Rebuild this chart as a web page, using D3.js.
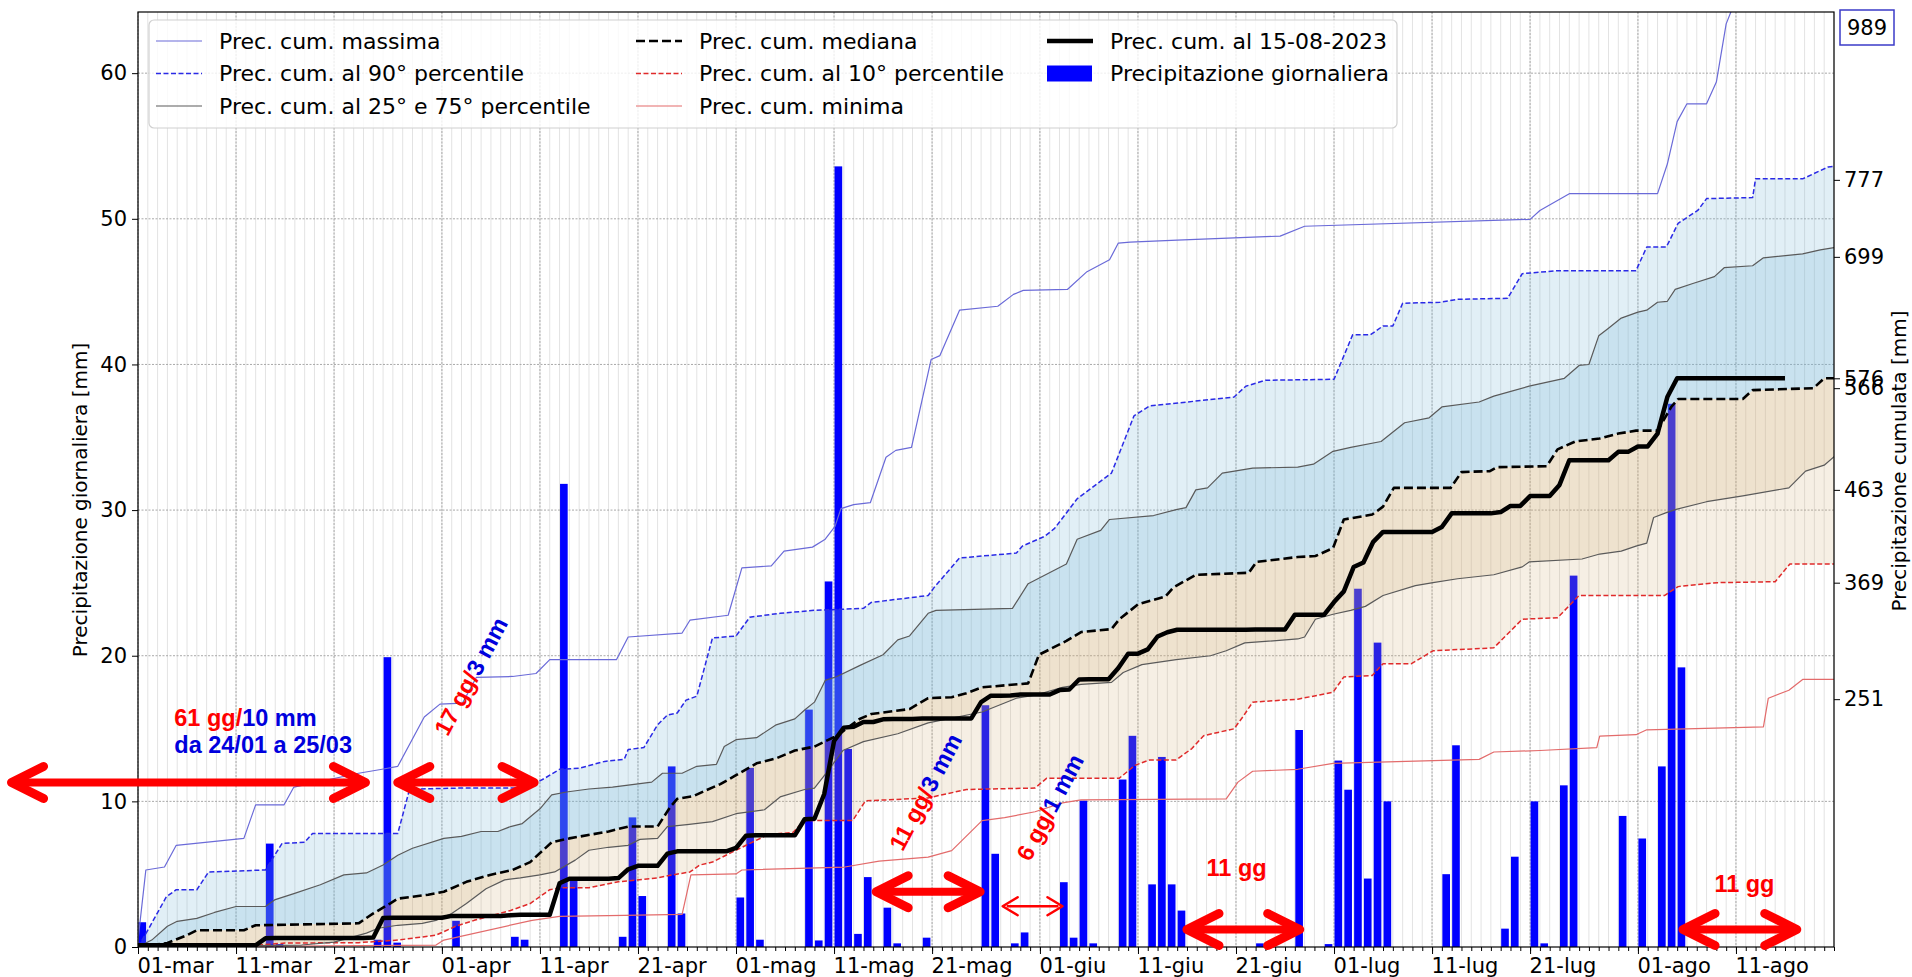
<!DOCTYPE html>
<html>
<head>
<meta charset="utf-8">
<script src="https://cdn.jsdelivr.net/npm/d3@7"></script>
<style>
  body { margin: 0; background: #fff; }
  text { font-family: "DejaVu Sans", sans-serif; }
  .note { font-family: "Liberation Sans", Arial, sans-serif; font-weight: bold; }
</style>
</head>
<body>
<div id="chart"></div>
<script>
// series start on 1 March 2023, x values are days from that date
const START = Date.UTC(2023, 2, 1);
const LAST_DAY = 173;   // 21 Aug

const monthNames = ["gen", "feb", "mar", "apr", "mag", "giu", "lug", "ago", "set", "ott", "nov", "dic"];
const labelDays = [1, 11, 21];
const leftTicks = [0, 10, 20, 30, 40, 50, 60];
const rightTicks = [251, 369, 463, 566, 576, 699, 777];
const maxValueLabel = "989";

// daily precipitation 2023 [day, mm]
const dailyRain = [
  [0, 1.7], [13, 7.1], [14, 0.2], [24, 0.5], [25, 19.9], [26, 0.3], [32, 1.8], [38, 0.7], [39, 0.5],
  [43, 31.8], [44, 4.6], [49, 0.7], [50, 8.9], [51, 3.5], [54, 12.4], [55, 2.3], [61, 3.4], [62, 12.3],
  [63, 0.5], [68, 16.3], [69, 0.45], [70, 25.1], [71, 53.6], [72, 13.6], [73, 0.9], [74, 4.8], [76, 2.7],
  [77, 0.25], [80, 0.64], [86, 16.6], [87, 6.4], [89, 0.25], [90, 1.0], [94, 4.45], [95, 0.64], [96, 10.05],
  [97, 0.25], [100, 11.5], [101, 14.5], [103, 4.3], [104, 13.05], [105, 4.3], [106, 2.5], [114, 0.25],
  [118, 14.9], [121, 0.2], [122, 12.8], [123, 10.8], [124, 24.6], [125, 4.7], [126, 20.9], [127, 10.0],
  [133, 5.0], [134, 13.85], [139, 1.26], [140, 6.2], [142, 10.0], [143, 0.25], [145, 11.1], [146, 25.5],
  [151, 9.0], [153, 7.45], [155, 12.4], [156, 37.3], [157, 19.2]
];

// cumulative curves [day, mm]
const cumMax = [
  [0, 7], [0.8, 78], [2.7, 81], [3.9, 103], [10.8, 110], [12, 144], [14.9, 144], [15.9, 162], [22.5, 176],
  [24.9, 180], [26.5, 183], [29.2, 233], [30.8, 246], [33.1, 247], [34.5, 273], [38.2, 274], [40.6, 277],
  [42, 291], [48.8, 291], [50, 314], [55.5, 318], [56.3, 331], [60.2, 336], [61.6, 384], [64.6, 386],
  [65.9, 401], [68.8, 405], [70.1, 413], [71.1, 426], [71.7, 444], [73, 448], [74.7, 450], [76.3, 496],
  [77.3, 503], [78.9, 506], [80.9, 595], [81.8, 599], [83.8, 645], [87.7, 649], [89.3, 661], [90.3, 665],
  [94.8, 666], [96.8, 684], [99.1, 696], [100, 713], [101.2, 714], [106, 716], [116.5, 720], [119, 730],
  [142, 737], [143, 746], [146, 763], [155, 763], [156, 793], [157, 836], [158, 854], [160, 854],
  [161, 876], [162, 935], [163, 960], [167, 989], [173, 995]
];
const cumP90 = [
  [0, 0], [1, 17], [2.9, 51], [3.9, 58], [6, 58], [7.2, 76], [13, 78], [14.7, 105], [17, 106], [17.8, 115],
  [26.5, 115], [27.6, 156], [28.2, 160], [33, 161], [39, 161], [40.6, 166], [41.5, 171], [43, 180], [45, 181],
  [47.6, 188], [49.6, 190], [50, 200], [51.6, 202], [53, 225], [54, 235], [55, 237], [55.9, 250], [57, 254],
  [58, 291], [58.6, 313], [61, 315], [62.4, 334], [65.5, 338], [69, 341], [74, 343], [74.8, 349], [80.6, 356],
  [81.2, 364], [83.8, 394], [89.6, 399], [90.2, 406], [92.5, 416], [93.5, 424], [95.8, 454], [99.3, 480],
  [101.6, 538], [103.2, 548], [111.8, 557], [113, 568], [115, 574], [122, 575], [123.9, 620], [125.7, 620],
  [127, 629], [128, 629], [129, 652], [132.8, 653], [134.6, 656], [139.7, 657], [141.2, 682], [144.8, 685],
  [152.8, 685], [153.9, 709], [155.9, 709], [157.1, 733], [159.1, 746], [160, 758], [164.7, 759], [165, 778],
  [169.8, 778], [172.4, 790], [173.4, 791]
];
const cumP75 = [
  [0, 0], [1.4, 7], [3, 21], [4, 26], [6, 29], [7.8, 35], [10, 41], [13, 41], [14, 48], [15.9, 54], [18.6, 63],
  [21, 73], [23.3, 75], [25, 83], [26.5, 93], [28, 100], [31.2, 110], [33, 112], [35, 117], [36.7, 117],
  [38, 122], [39.2, 125], [41, 140], [42.2, 154], [43.7, 157], [46, 160], [48.4, 162], [50, 164], [52.4, 167],
  [53.5, 176], [55.5, 176], [57, 183], [59, 185], [59.8, 203], [61, 210], [63.1, 212], [65.1, 225], [67, 231],
  [68, 240], [69, 248], [70.1, 270], [71.3, 274], [73.6, 285], [76, 296], [77.5, 311], [78.7, 315],
  [80.6, 338], [81.4, 341], [89.2, 343], [90.8, 368], [94.7, 388], [95.8, 413], [98.2, 422], [99.1, 433],
  [103.6, 437], [105.9, 443], [106.9, 445], [107.9, 463], [109.1, 465], [110.6, 480], [113.7, 485],
  [118.3, 486], [119.9, 489], [121.9, 502], [123.7, 506], [126.8, 512], [129.2, 531], [131.7, 536], [133, 547],
  [136.8, 552], [138.3, 558], [141.9, 568], [145.5, 576], [147, 589], [148, 590], [149, 619], [149.9, 626],
  [151.3, 637], [153, 643], [153.9, 645], [155, 653], [156, 654], [156.8, 666], [158.6, 672], [160.8, 679],
  [161.8, 688], [164.7, 690], [165.8, 698], [169.8, 702], [171.6, 706], [173.4, 709]
];
const cumMedian = [
  [0, 0], [3, 4], [5, 12], [6, 17], [10.8, 17], [12, 22], [22.5, 24], [24, 34], [25.7, 44], [26.5, 49],
  [29.6, 53], [31.2, 56], [33.5, 66], [35.9, 73], [38.2, 78], [40, 86], [42.2, 106], [44, 110], [48, 117],
  [50, 122], [53, 122], [54.3, 142], [55, 150], [56.7, 153], [58, 159], [59.4, 165], [61, 174], [63.1, 186],
  [65.1, 191], [67, 199], [69, 203], [71.3, 214], [73.6, 231], [74.8, 236], [78.7, 241], [80.6, 252], [83, 253],
  [84.5, 257], [86.1, 263], [90.8, 267], [91.9, 296], [94.7, 310], [96.2, 319], [99.3, 322], [100.1, 332],
  [102, 347], [104.8, 355], [105.6, 364], [107.9, 377], [113.3, 379], [114.1, 390], [118.3, 395], [120.1, 396],
  [121.9, 404], [123, 433], [125.9, 438], [127, 446], [128.1, 465], [133.9, 465], [135, 481], [137.9, 482],
  [138.6, 486], [143.7, 487], [144.8, 504], [146.6, 512], [149.1, 515], [151, 520], [152.8, 523], [155, 523],
  [156.4, 547], [157.1, 555], [163.7, 555], [164.7, 564], [170.9, 566], [172, 576], [173.4, 576]
];
const cumP25 = [
  [0, 0], [16.7, 2], [20, 5], [23.3, 14], [24.5, 19], [26.5, 22], [29, 24], [30.4, 27], [32, 34], [33.5, 44],
  [35.5, 59], [37.4, 68], [39, 70], [41, 73], [42.5, 76], [44.6, 88], [46, 98], [48, 101], [50, 103], [51.2, 109],
  [53, 110], [54, 122], [56, 124], [58.6, 127], [61, 135], [63.9, 139], [65.5, 152], [68, 159.5], [69, 161],
  [70.5, 180], [71.9, 199], [74, 208], [77.5, 216], [80.6, 227], [86.1, 238], [89.6, 252], [91.5, 255],
  [94.3, 263], [96.2, 266], [99.3, 268], [100.5, 278], [102.4, 286], [105.9, 291], [109.4, 295], [111, 300],
  [112.9, 308], [118.3, 312], [119, 314], [120.1, 332], [121.9, 337], [123.7, 341], [125.2, 345], [127, 356],
  [130.3, 366], [132.1, 369], [134.6, 373], [138.3, 377], [141.2, 385], [141.9, 390], [147.3, 393],
  [149.1, 398], [151.3, 401], [152.8, 406], [153.9, 409], [154.6, 435], [155.9, 440], [156.8, 443], [160, 451],
  [163.7, 457], [168.4, 465], [170.1, 482], [172, 488], [173.4, 500]
];
const cumP10 = [
  [0, 0], [12.4, 2], [15, 4], [22.5, 4.4], [26.5, 7], [30.4, 12], [32.4, 21], [34.3, 27], [38, 37], [40, 44],
  [42, 58], [43, 60], [46, 60], [49, 66], [50, 67], [53, 70], [54.5, 73], [56.3, 76], [57.3, 83], [58.6, 86],
  [61.2, 99], [64.3, 114], [66.8, 116], [68, 128], [72.9, 128], [74.2, 148], [80.6, 151], [84.5, 159.5],
  [91.5, 161], [92.7, 171], [100.1, 171], [101.7, 184], [103.2, 189.5], [105.9, 189.5], [107.5, 201],
  [108.7, 214], [111.8, 221], [112.8, 234.5], [113.7, 248], [118.3, 251], [121.9, 258], [123, 273.5],
  [125.9, 275], [127, 287], [129.9, 287], [132.1, 300], [138.3, 303], [141.2, 332], [144.8, 333.5], [147, 356],
  [155.7, 356], [157.1, 365], [161.1, 369], [167, 370], [168.5, 388], [173.4, 388]
];
const cumMin = [
  [0, 0], [30.4, 2], [31.2, 7], [40.2, 27], [43, 31], [49.6, 32], [55.5, 33], [56.4, 73], [61, 74], [61.6, 78],
  [72.1, 81], [75.6, 87], [80.6, 91], [83, 97.6], [86.1, 128], [88.4, 131], [91.5, 137], [94.3, 146], [96.2, 149],
  [111, 150], [112.2, 167], [113.7, 178], [118.3, 180], [121.9, 186], [136.8, 190], [138.3, 197.5], [143, 199],
  [148.8, 202], [149.1, 213.5], [152.8, 215], [153.9, 220], [165.8, 223], [166.3, 252], [168.4, 260],
  [169.8, 271], [173.4, 271]
];
const cum2023 = [
  [0, 1.7], [12, 1.7], [13, 8.8], [14, 9], [23, 9], [24, 9.5], [25, 29.4], [26, 29.7], [31, 29.7], [32, 31.5],
  [37, 31.5], [38, 32.2], [39, 32.7], [42, 32.7], [43, 64.5], [44, 69.1], [48, 69.1], [49, 69.8], [50, 78.7],
  [51, 82.2], [53, 82.2], [54, 94.6], [55, 96.9], [60, 96.9], [61, 100.3], [62, 112.6], [63, 113.1], [67, 113.1],
  [68, 129.4], [69, 129.9], [70, 155], [71, 208.6], [72, 222.2], [73, 223.1], [74, 227.9], [75, 227.9],
  [76, 230.6], [77, 230.9], [79, 230.9], [80, 231.5], [85, 231.5], [86, 248.1], [87, 254.5], [88, 254.5],
  [89, 254.7], [90, 255.7], [93, 255.7], [94, 260.2], [95, 260.8], [96, 270.9], [97, 271.1], [99, 271.1],
  [100, 282.6], [101, 297.1], [102, 297.1], [103, 301.4], [104, 314.5], [105, 318.8], [106, 321.3],
  [113, 321.3], [114, 321.5], [117, 321.5], [118, 336.4], [120, 336.4], [121, 336.6], [122, 349.4],
  [123, 360.2], [124, 384.8], [125, 389.5], [126, 410.4], [127, 420.4], [132, 420.4], [133, 425.4],
  [134, 439.2], [138, 439.2], [139, 440.5], [140, 446.7], [141, 446.7], [142, 456.7], [143, 456.9],
  [144, 456.9], [145, 468], [146, 493], [150, 493], [151, 501.5], [152, 501.5], [153, 507], [154, 507],
  [155, 520], [156, 557], [157, 576], [168, 576]
];

// annotations (days / daily-mm level)
const dryArrows = [
  { from: -12.9, to: 23.2, level: 11.3, heavy: true },
  { from: 26.5, to: 40.4, level: 11.3, heavy: true },
  { from: 75.3, to: 85.9, level: 3.8, heavy: true },
  { from: 88.2, to: 94.3, level: 2.8, heavy: false },
  { from: 107, to: 118.5, level: 1.2, heavy: true },
  { from: 157.6, to: 169.2, level: 1.2, heavy: true }
];
const dryNotes = [
  { day: 3.7, level: 15.2, rot: 0, parts: [["61 gg/", "red"], ["10 mm", "blue"]] },
  { day: 3.7, level: 13.3, rot: 0, parts: [["da 24/01 a 25/03", "blue"]] },
  { day: 31.6, level: 14.4, rot: -62, parts: [["17 gg/", "red"], ["3 mm", "blue"]] },
  { day: 78, level: 6.5, rot: -62, parts: [["11 gg/", "red"], ["3 mm", "blue"]] },
  { day: 91, level: 5.8, rot: -62, parts: [["6 gg/", "red"], ["1 mm", "blue"]] },
  { day: 109, level: 4.9, rot: 0, parts: [["11 gg", "red"]] },
  { day: 160.8, level: 3.8, rot: 0, parts: [["11 gg", "red"]] }
];

const plot = { left: 138, right: 1834, top: 12, bottom: 947 };
const W = 1912, H = 977;

const svg = d3.select("#chart").append("svg")
  .attr("width", W).attr("height", H);

const dayDate = d => new Date(START + d * 864e5);
const x = d3.scaleUtc().domain([dayDate(0), dayDate(LAST_DAY)]).range([plot.left, plot.right]);
const xd = d => x(dayDate(d));
const yLeft = d3.scaleLinear().domain([0, 64.2]).range([plot.bottom, plot.top]);
const yRight = d3.scaleLinear().domain([0, 947]).range([plot.bottom, plot.top]);

svg.append("clipPath").attr("id", "clip")
  .append("rect")
  .attr("x", plot.left).attr("y", plot.top)
  .attr("width", plot.right - plot.left).attr("height", plot.bottom - plot.top);

// grid
const allDays = d3.utcDay.range(dayDate(0), dayDate(LAST_DAY + 0.5));
const majorDays = allDays.filter(d => labelDays.includes(d.getUTCDate()) && d < dayDate(LAST_DAY));

const grid = svg.append("g");
grid.selectAll(".minor").data(allDays).enter().append("line")
  .attr("x1", d => x(d)).attr("x2", d => x(d))
  .attr("y1", plot.top).attr("y2", plot.bottom)
  .attr("stroke", "#e3e3e3").attr("stroke-width", 1);
grid.selectAll(".major").data(majorDays).enter().append("line")
  .attr("x1", d => x(d)).attr("x2", d => x(d))
  .attr("y1", plot.top).attr("y2", plot.bottom)
  .attr("stroke", "#a8a8a8").attr("stroke-width", 1).attr("stroke-dasharray", "2,1.5");
grid.selectAll(".hgrid").data(leftTicks.slice(1)).enter().append("line")
  .attr("x1", plot.left).attr("x2", plot.right)
  .attr("y1", d => yLeft(d)).attr("y2", d => yLeft(d))
  .attr("stroke", "#a8a8a8").attr("stroke-width", 1).attr("stroke-dasharray", "2,1.5");

const inner = svg.append("g").attr("clip-path", "url(#clip)");

// bars (left axis)
inner.selectAll(".bar").data(dailyRain).enter().append("rect")
  .attr("x", d => xd(d[0] + 0.05))
  .attr("width", xd(0.78) - xd(0))
  .attr("y", d => yLeft(d[1]))
  .attr("height", d => yLeft(0) - yLeft(d[1]))
  .attr("fill", "#0000ff");

// bands (right axis)
const line = d3.line().x(d => xd(d[0])).y(d => yRight(d[1]));
function band(upper, lower) {
  return line(upper) + "L" + line(lower.slice().reverse()).slice(1) + "Z";
}
const bands = [
  [cumP90, cumMedian, "#77b7d4", 0.22],
  [cumP75, cumMedian, "#77b7d4", 0.22],
  [cumMedian, cumP10, "#d2af78", 0.2],
  [cumMedian, cumP25, "#d2af78", 0.2]
];
bands.forEach(b => {
  inner.append("path").attr("d", band(b[0], b[1]))
    .attr("fill", b[2]).attr("fill-opacity", b[3]).attr("stroke", "none");
});

const styles = [
  { data: cumMin, color: "#e36b6b", width: 1.2, dash: null },
  { data: cumP10, color: "#e02a2a", width: 1.5, dash: "5,2.5" },
  { data: cumP25, color: "#5a5a5a", width: 1.2, dash: null },
  { data: cumP75, color: "#5a5a5a", width: 1.2, dash: null },
  { data: cumMedian, color: "#000", width: 2.6, dash: "9,4" },
  { data: cumP90, color: "#2a2ae6", width: 1.5, dash: "5,2.5" },
  { data: cumMax, color: "#6a6ad8", width: 1.2, dash: null },
  { data: cum2023, color: "#000", width: 4.5, dash: null }
];
styles.forEach(s => {
  inner.append("path").datum(s.data)
    .attr("d", line)
    .attr("fill", "none")
    .attr("stroke", s.color)
    .attr("stroke-width", s.width)
    .attr("stroke-linejoin", "round")
    .attr("stroke-dasharray", s.dash);
});

// axes
const fmt = d => d3.utcFormat("%d")(d) + "-" + monthNames[d.getUTCMonth()];

svg.append("g")
  .attr("transform", `translate(0,${plot.bottom})`)
  .call(d3.axisBottom(x).tickValues(allDays).tickSize(4).tickFormat(""))
  .call(g => g.select(".domain").remove());

const xAxis = svg.append("g")
  .attr("transform", `translate(0,${plot.bottom})`)
  .call(d3.axisBottom(x).tickValues(majorDays).tickSize(7).tickPadding(4).tickFormat(fmt));
xAxis.select(".domain").remove();
xAxis.selectAll("text").attr("text-anchor", "start").attr("x", -1)
  .style("font-size", "21px").attr("fill", "#000");

const yAxisL = svg.append("g")
  .attr("transform", `translate(${plot.left},0)`)
  .call(d3.axisLeft(yLeft).tickValues(leftTicks).tickSize(6).tickPadding(5));
yAxisL.select(".domain").remove();
yAxisL.selectAll("text").style("font-size", "21px").attr("fill", "#000");

const yAxisR = svg.append("g")
  .attr("transform", `translate(${plot.right},0)`)
  .call(d3.axisRight(yRight).tickValues(rightTicks).tickSize(6).tickPadding(4));
yAxisR.select(".domain").remove();
yAxisR.selectAll("text").style("font-size", "21px").attr("fill", "#000");

svg.append("rect")
  .attr("x", plot.left).attr("y", plot.top)
  .attr("width", plot.right - plot.left).attr("height", plot.bottom - plot.top)
  .attr("fill", "none").attr("stroke", "#000").attr("stroke-width", 1.2);

// axis labels
svg.append("text")
  .attr("transform", "translate(80,500) rotate(-90)")
  .attr("text-anchor", "middle").attr("dominant-baseline", "central")
  .style("font-size", "20px")
  .text("Precipitazione giornaliera [mm]");
svg.append("text")
  .attr("transform", "translate(1899,461) rotate(-90)")
  .attr("text-anchor", "middle").attr("dominant-baseline", "central")
  .style("font-size", "20px")
  .text("Precipitazione cumulata [mm]");

// value of the maximum curve, out of scale
svg.append("rect")
  .attr("x", 1840).attr("y", 10).attr("width", 54).attr("height", 35)
  .attr("fill", "#fff").attr("stroke", "#3b3bc8").attr("stroke-width", 1.5);
svg.append("text")
  .attr("x", 1867).attr("y", 28)
  .attr("text-anchor", "middle").attr("dominant-baseline", "central")
  .style("font-size", "21px")
  .text(maxValueLabel);

// dry period arrows
const notesG = svg.append("g");
dryArrows.forEach(a => {
  const x1 = xd(a.from), x2 = xd(a.to), y = yLeft(a.level);
  const hx = a.heavy ? 32 : 15, hy = a.heavy ? 16 : 9;
  notesG.append("line")
    .attr("x1", x1 + 4).attr("x2", x2 - 4).attr("y1", y).attr("y2", y)
    .attr("stroke", "#ff0000").attr("stroke-width", a.heavy ? 8 : 2.5);
  notesG.append("path")
    .attr("d", `M${x1 + hx},${y - hy}L${x1},${y}L${x1 + hx},${y + hy}M${x2 - hx},${y - hy}L${x2},${y}L${x2 - hx},${y + hy}`)
    .attr("fill", "none").attr("stroke", "#ff0000")
    .attr("stroke-width", a.heavy ? 9 : 2.5)
    .attr("stroke-linecap", "round").attr("stroke-linejoin", "round");
});

dryNotes.forEach(n => {
  const t = notesG.append("text")
    .attr("class", "note")
    .attr("transform", `translate(${xd(n.day)},${yLeft(n.level)}) rotate(${n.rot})`)
    .style("font-size", "23.5px");
  n.parts.forEach(p => {
    t.append("tspan").attr("fill", p[1] === "red" ? "#ff0000" : "#0000dd").text(p[0]);
  });
});

// legend
const legendItems = [
  { label: "Prec. cum. massima", col: 0, row: 0, color: "#6a6ad8", width: 1.2, dash: null },
  { label: "Prec. cum. al 90° percentile", col: 0, row: 1, color: "#2a2ae6", width: 1.5, dash: "5,2.5" },
  { label: "Prec. cum. al 25° e 75° percentile", col: 0, row: 2, color: "#5a5a5a", width: 1.2, dash: null },
  { label: "Prec. cum. mediana", col: 1, row: 0, color: "#000", width: 2.6, dash: "9,4" },
  { label: "Prec. cum. al 10° percentile", col: 1, row: 1, color: "#e02a2a", width: 1.5, dash: "5,2.5" },
  { label: "Prec. cum. minima", col: 1, row: 2, color: "#e36b6b", width: 1.2, dash: null },
  { label: "Prec. cum. al 15-08-2023", col: 2, row: 0, color: "#000", width: 4.5, dash: null },
  { label: "Precipitazione giornaliera", col: 2, row: 1, color: "#0000ff", bar: true }
];
const colX = [156, 636, 1047];
const rowY = [41, 73.5, 106];

const legend = svg.append("g");
legend.append("rect")
  .attr("x", 149).attr("y", 20).attr("width", 1248).attr("height", 108)
  .attr("rx", 5)
  .attr("fill", "#fff").attr("fill-opacity", 0.8)
  .attr("stroke", "#d0d0d0").attr("stroke-width", 1.2);
legendItems.forEach(it => {
  const lx = colX[it.col], ly = rowY[it.row];
  if (it.bar) {
    legend.append("rect").attr("x", lx).attr("y", ly - 8).attr("width", 45).attr("height", 16)
      .attr("fill", it.color);
  } else {
    legend.append("line")
      .attr("x1", lx).attr("x2", lx + 46).attr("y1", ly).attr("y2", ly)
      .attr("stroke", it.color).attr("stroke-width", it.width)
      .attr("stroke-dasharray", it.dash);
  }
  legend.append("text")
    .attr("x", lx + 63).attr("y", ly)
    .attr("dominant-baseline", "central")
    .style("font-size", "22px")
    .text(it.label);
});
</script>
</body>
</html>
